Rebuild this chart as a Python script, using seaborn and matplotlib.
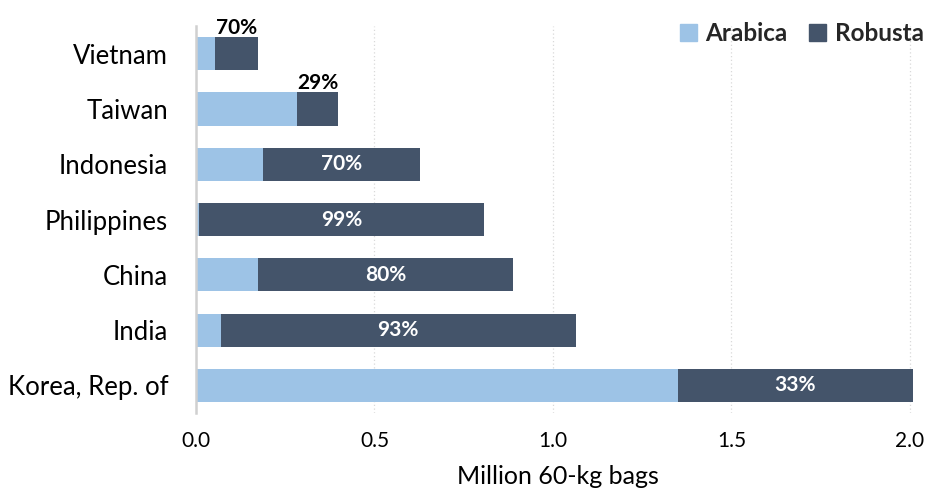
import matplotlib
matplotlib.use("Agg")
import matplotlib.pyplot as plt
import seaborn as sns
import pandas as pd

countries = ["Vietnam", "Taiwan", "Indonesia", "Philippines", "China", "India", "Korea, Rep. of"]
arabica = [0.052, 0.283, 0.187, 0.007, 0.173, 0.069, 1.349]
robusta = [0.121, 0.115, 0.440, 0.800, 0.715, 0.995, 0.659]
robusta_share = ["70%", "29%", "70%", "99%", "80%", "93%", "33%"]
xticks = [0.0, 0.5, 1.0, 1.5, 2.0]

ARABICA_C = "#9DC3E6"
ROBUSTA_C = "#44546A"

sns.set_theme(style="white")
plt.rcParams["font.family"] = ["Lato", "DejaVu Sans"]

df = pd.DataFrame({"country": countries, "arabica": arabica, "robusta": robusta})
df["total"] = df["arabica"] + df["robusta"]

fig = plt.figure(figsize=(9.29, 4.90), dpi=100)
ax = fig.add_axes([0.211, 0.157, 0.780, 0.790])

# stacked bars: total length in Robusta colour, Arabica drawn over its left part
sns.barplot(data=df, x="total", y="country", color=ROBUSTA_C, width=0.6,
            saturation=1, orient="h", ax=ax, zorder=2, linewidth=0)
sns.barplot(data=df, x="arabica", y="country", color=ARABICA_C, width=0.6,
            saturation=1, orient="h", ax=ax, zorder=3, linewidth=0)

ax.set_xlim(0, 2.03)
ax.set_ylim(6.5, -0.5)
ax.set_xticks(xticks)
ax.set_xticklabels([f"{t:.1f}" for t in xticks], fontsize=15, color="#000000")
ax.tick_params(axis="x", length=0, pad=13)
ax.tick_params(axis="y", length=0, pad=20, labelsize=18.5, labelcolor="#000000")
ax.set_ylabel("")
ax.set_xlabel("Million 60-kg bags", fontsize=18, color="#000000", labelpad=10)

for x in xticks[1:]:
    ax.axvline(x, color="#D9D9D9", lw=0.9, ls=(0, (1, 2)), zorder=1)

for side in ["top", "right", "bottom"]:
    ax.spines[side].set_visible(False)
ax.spines["left"].set_color("#D0D0D0")
ax.spines["left"].set_linewidth(1.8)
ax.spines["left"].set_zorder(4)

# Robusta share labels
for i, (a, r, lab) in enumerate(zip(arabica, robusta, robusta_share)):
    cx = a + r / 2
    if r < 0.2:
        ax.text(cx, i - 0.28, lab, ha="center", va="bottom", fontsize=15,
                fontweight="bold", color="#000000", zorder=5)
    else:
        ax.text(cx, i, lab, ha="center", va="center", fontsize=15,
                fontweight="bold", color="white", zorder=5)

handles = [plt.Rectangle((0, 0), 1, 1, color=ARABICA_C),
           plt.Rectangle((0, 0), 1, 1, color=ROBUSTA_C)]
leg = fig.legend(handles, ["Arabica", "Robusta"], loc="upper right",
                 bbox_to_anchor=(1.018, 1.0), ncol=2, frameon=False,
                 prop={"weight": "bold", "size": 17.5}, handlelength=0.7,
                 handleheight=0.7, handletextpad=0.35, columnspacing=0.9)

fig.savefig("out.png", dpi=100)
